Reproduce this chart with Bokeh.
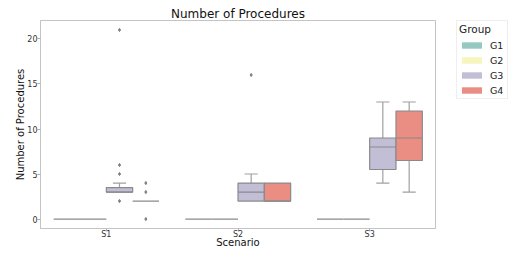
from bokeh.plotting import figure
from bokeh.models import FixedTicker, Legend, LegendItem, ColumnDataSource, Range1d
from bokeh.embed import file_html
from bokeh.resources import INLINE

scenarios = ["S1", "S2", "S3"]
groups = ["G1", "G2", "G3", "G4"]
colors = ["#96cac1", "#f5f5bc", "#c1bed6", "#ea8d83"]

# box statistics, rows = scenario, columns = group
q1 = [[0, 0, 3, 2], [0, 0, 2, 2], [0, 0, 5.5, 6.5]]
med = [[0, 0, 3, 2], [0, 0, 3, 2], [0, 0, 8, 9]]
q3 = [[0, 0, 3.5, 2], [0, 0, 4, 4], [0, 0, 9, 12]]
wlo = [[0, 0, 3, 2], [0, 0, 2, 2], [0, 0, 4, 3]]
whi = [[0, 0, 4, 2], [0, 0, 5, 4], [0, 0, 13, 13]]

out_scenario = ["S1", "S1", "S1", "S1", "S1", "S1", "S1", "S2"]
out_group = ["G3", "G3", "G3", "G3", "G4", "G4", "G4", "G3"]
out_value = [2, 5, 6, 21, 0, 3, 4, 16]

FONT = "DejaVu Sans"
BOXW = 0.2
LINE = "#8a8a8a"
WHISK = "#a0a0a0"

p = figure(frame_width=395, frame_height=208,
           x_range=Range1d(-0.5, 2.5), y_range=Range1d(-1.05, 22.05),
           output_backend="svg", toolbar_location=None,
           title="Number of Procedures",
           min_border_left=40, min_border_right=73, min_border_top=20, min_border_bottom=26)
p.title.align = "center"
p.title.text_font = FONT
p.title.text_font_size = "12px"
p.title.text_font_style = "normal"
p.title.text_color = "#111111"
p.title.standoff = 0
p.title.offset = 0
p.xgrid.visible = False
p.ygrid.visible = False
p.outline_line_color = "#c4c4c4"
p.outline_line_width = 1

def xpos(si, gi):
    return si + (gi - 1.5) * BOXW

box = dict(x=[], top=[], bottom=[], color=[])
med_s = dict(x0=[], x1=[], y=[])
wh = dict(x=[], y0=[], y1=[])
cap = dict(x0=[], x1=[], y=[])
for si in range(len(scenarios)):
    for gi in range(len(groups)):
        x = xpos(si, gi)
        if q3[si][gi] > q1[si][gi]:
            box["x"].append(x); box["top"].append(q3[si][gi]); box["bottom"].append(q1[si][gi])
            box["color"].append(colors[gi])
        med_s["x0"].append(x - BOXW / 2); med_s["x1"].append(x + BOXW / 2); med_s["y"].append(med[si][gi])
        if whi[si][gi] > q3[si][gi]:
            wh["x"].append(x); wh["y0"].append(q3[si][gi]); wh["y1"].append(whi[si][gi])
            cap["x0"].append(x - BOXW / 4); cap["x1"].append(x + BOXW / 4); cap["y"].append(whi[si][gi])
        if wlo[si][gi] < q1[si][gi]:
            wh["x"].append(x); wh["y0"].append(wlo[si][gi]); wh["y1"].append(q1[si][gi])
            cap["x0"].append(x - BOXW / 4); cap["x1"].append(x + BOXW / 4); cap["y"].append(wlo[si][gi])

p.segment(x0="x", x1="x", y0="y0", y1="y1", source=ColumnDataSource(wh), line_color=WHISK, line_width=1.2)
p.segment(x0="x0", x1="x1", y0="y", y1="y", source=ColumnDataSource(cap), line_color=WHISK, line_width=1.2)
p.vbar(x="x", top="top", bottom="bottom", width=BOXW, source=ColumnDataSource(box),
       fill_color="color", line_color=LINE, line_width=1.2)
p.segment(x0="x0", x1="x1", y0="y", y1="y", source=ColumnDataSource(med_s), line_color=LINE, line_width=1.2)

ox = [xpos(scenarios.index(s), groups.index(g)) for s, g in zip(out_scenario, out_group)]
p.scatter(ox, out_value, marker="diamond", size=3.2, fill_color="#808080", line_color="#808080")

# legend proxies (zero-height, invisible in the plot)
items = []
for g, c in zip(groups, colors):
    r = p.vbar(x=[0], top=[0], bottom=[0], width=0.001, fill_color=c, line_color=None)
    items.append(LegendItem(label=g, renderers=[r]))
legend = Legend(items=items, location=(21, 129), title="Group",
                title_text_font=FONT, title_text_font_size="10.5px", title_text_color="#222222",
                title_text_font_style="normal", title_standoff=4,
                label_text_font=FONT, label_text_font_size="9.5px", label_text_color="#222222",
                glyph_width=25, glyph_height=8, label_height=12, label_width=15,
                label_standoff=6, spacing=3, padding=2, margin=0,
                border_line_color="#dddddd", border_line_width=1, background_fill_color="white")
p.add_layout(legend, "right")

for ax in (p.xaxis[0], p.yaxis[0]):
    ax.axis_line_color = "#c4c4c4"
    ax.major_tick_line_color = "#b0b0b0"
    ax.major_tick_out = 3
    ax.major_tick_in = 0
    ax.minor_tick_line_color = None
    ax.major_label_text_font = FONT
    ax.major_label_text_font_size = "8px"
    ax.major_label_text_color = "#333333"
    ax.axis_label_text_font = FONT
    ax.axis_label_text_font_size = "10px"
    ax.axis_label_text_font_style = "normal"
    ax.axis_label_text_color = "#111111"

p.xaxis.ticker = FixedTicker(ticks=[0, 1, 2])
p.xaxis.major_label_overrides = {i: s for i, s in enumerate(scenarios)}
p.xaxis.axis_label = "Scenario"
p.xaxis.major_label_standoff = -2
p.xaxis.axis_label_standoff = -5
p.yaxis.ticker = FixedTicker(ticks=[0, 5, 10, 15, 20])
p.yaxis.axis_label = "Number of Procedures"
p.yaxis.major_label_standoff = 0
p.yaxis.axis_label_standoff = -2

open("out.html", "w").write(file_html(p, INLINE))
